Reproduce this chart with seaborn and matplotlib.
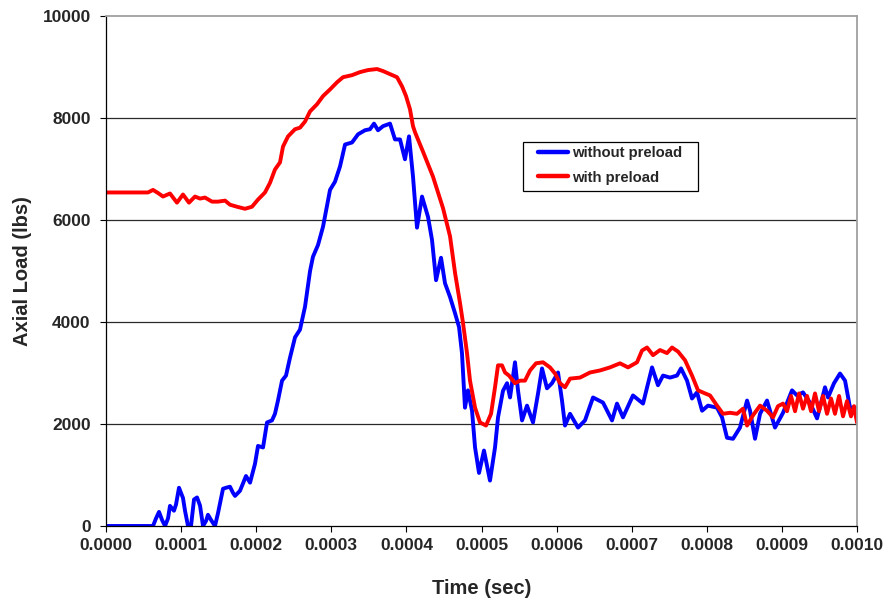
import numpy as np
import pandas as pd
import matplotlib
matplotlib.use("Agg")
import matplotlib.pyplot as plt
from matplotlib.patches import Rectangle
import seaborn as sns

# Axial load histories (time in microseconds, load in lbs)
t_without_us = [0, 62.6, 66.6, 70.6, 74.6, 78.6, 82.6, 85.2, 90.5, 93.2, 97.2, 99.9, 102.5, 105.2,
                109.2, 113.2, 117.2, 121.2, 125.2, 129.2, 133.2, 135.8, 139.8, 145.1, 149.1, 155.8,
                159.8, 165.1, 169.1, 171.8, 178.4, 186.4, 191.8, 198.4, 202.4, 209.1, 214.4, 221.0,
                225.0, 229.0, 234.4, 239.7, 245.0, 251.7, 258.3, 265.0, 271.7, 275.6, 282.3, 289.0,
                298.3, 304.9, 311.6, 318.3, 327.6, 335.6, 344.9, 351.5, 356.9, 362.2, 368.9, 378.2,
                384.8, 391.5, 398.1, 403.5, 408.8, 414.1, 420.8, 428.8, 434.1, 439.5, 446.1, 451.4,
                458.1, 464.8, 470.1, 474.0, 478.0, 482.0, 487.4, 491.4, 496.7, 503.3, 511.3, 518.0,
                522.0, 528.6, 534.0, 538.0, 544.6, 548.6, 554.0, 560.6, 568.6, 575.3, 580.6, 587.2,
                593.9, 601.9, 607.2, 611.2, 617.9, 628.5, 637.8, 648.5, 661.8, 673.8, 680.4, 688.4,
                701.7, 715.1, 727.1, 735.0, 741.7, 751.0, 760.3, 765.7, 773.7, 780.3, 787.0, 793.7,
                801.6, 813.6, 820.3, 826.9, 834.9, 844.2, 853.6, 857.6, 864.2, 870.9, 880.2, 890.8,
                901.5, 913.5, 920.1, 928.1, 937.4, 946.8, 957.4, 961.4, 969.4, 977.4, 984.1, 990.7,
                1000.0]
load_without = [0, 0, 150, 276, 120, 0, 150, 394, 300, 420, 750, 650, 550, 300,
                0, 0, 520, 560, 400, 0, 100, 220, 120, 0, 250, 730,
                750, 770, 650, 590, 690, 980, 850, 1220, 1570, 1540, 2030, 2070,
                2200, 2460, 2850, 2950, 3300, 3700, 3850, 4300, 5000, 5280, 5510, 5870,
                6590, 6750, 7050, 7480, 7520, 7680, 7760, 7780, 7890, 7760, 7840, 7890,
                7580, 7580, 7190, 7640, 6850, 5850, 6460, 6060, 5610, 4820, 5260, 4760,
                4490, 4170, 3900, 3390, 2320, 2660, 2260, 1540, 1040, 1480, 890, 1540,
                2130, 2650, 2800, 2520, 3210, 2660, 2070, 2360, 2030, 2600, 3090, 2700,
                2800, 3010, 2460, 1970, 2200, 1930, 2070, 2520, 2420, 2070, 2400, 2130,
                2560, 2400, 3110, 2760, 2950, 2910, 2950, 3090, 2850, 2500, 2620, 2260,
                2360, 2320, 2130, 1730, 1710, 1930, 2460, 2260, 1710, 2200, 2460, 1930,
                2220, 2660, 2560, 2620, 2420, 2110, 2720, 2520, 2800, 2990, 2850, 2320,
                2320]

t_with_us = [0, 55.9, 62.6, 69.2, 75.9, 85.2, 94.5, 102.5, 110.5, 118.5, 125.2, 131.8, 141.2,
             149.1, 158.5, 165.1, 174.4, 185.1, 194.4, 202.4, 211.7, 218.4, 225.0, 231.7, 235.7,
             242.4, 251.7, 258.3, 265.0, 271.7, 281.0, 289.0, 298.3, 307.6, 315.6, 327.6, 338.2,
             348.9, 360.9, 368.9, 378.2, 387.5, 394.2, 399.5, 404.8, 408.8, 411.5, 422.1, 435.4,
             448.8, 458.1, 464.8, 471.4, 475.4, 480.7, 484.7, 491.4, 498.0, 506.0, 512.7, 518.0,
             522.0, 527.3, 531.3, 536.6, 544.6, 551.3, 557.9, 564.6, 572.6, 581.9, 591.2, 597.9,
             604.5, 611.2, 617.9, 631.2, 644.5, 657.8, 671.1, 684.4, 695.1, 707.1, 713.7, 720.4,
             728.4, 737.7, 747.0, 753.7, 761.7, 771.0, 780.3, 788.3, 797.6, 804.3, 813.6, 821.6,
             830.9, 840.2, 848.2, 853.6, 861.5, 870.9, 880.2, 888.2, 894.8, 901.5, 906.8, 912.1,
             917.5, 922.8, 928.1, 933.5, 938.8, 944.1, 949.4, 954.8, 960.1, 965.4, 970.7, 976.1,
             981.4, 986.7, 992.0, 996.0, 1000.0]
load_with = [6540, 6540, 6590, 6530, 6460, 6520, 6340, 6500, 6340, 6460, 6420, 6440, 6360,
             6360, 6380, 6300, 6260, 6220, 6260, 6400, 6540, 6730, 6990, 7130, 7440,
             7640, 7780, 7810, 7930, 8130, 8270, 8430, 8560, 8700, 8800, 8840, 8900,
             8940, 8960, 8920, 8860, 8800, 8620, 8430, 8170, 7840, 7720, 7340, 6850,
             6230, 5680, 4960, 4370, 3980, 3390, 2850, 2320, 2030, 1970, 2200, 2720,
             3150, 3150, 3010, 2950, 2800, 2850, 2850, 3050, 3190, 3210, 3110, 2990,
             2800, 2720, 2890, 2910, 3010, 3050, 3110, 3190, 3110, 3210, 3440, 3500,
             3350, 3450, 3390, 3500, 3420, 3250, 2950, 2660, 2600, 2560, 2360, 2200,
             2220, 2200, 2300, 1970, 2170, 2360, 2260, 2130, 2350, 2400, 2250, 2550,
             2250, 2600, 2300, 2550, 2250, 2600, 2250, 2550, 2200, 2500, 2200, 2550,
             2150, 2450, 2150, 2350, 2030]

series_names = ["without preload", "with preload"]
series_colors = ["#0000FF", "#FF0000"]
x_ticks = [i * 0.0001 for i in range(11)]
y_ticks = [0, 2000, 4000, 6000, 8000, 10000]

df = pd.concat([
    pd.DataFrame({"time": np.array(t_without_us) * 1e-6, "load": load_without,
                  "series": series_names[0]}),
    pd.DataFrame({"time": np.array(t_with_us) * 1e-6, "load": load_with,
                  "series": series_names[1]}),
], ignore_index=True)

sns.set_style("white")
plt.rcParams["font.family"] = ["Liberation Sans", "DejaVu Sans"]
plt.rcParams["font.weight"] = "bold"

fig = plt.figure(figsize=(8.88, 5.99), dpi=100)
ax = fig.add_axes([106 / 888, 73 / 599, 751 / 888, 510 / 599])

sns.lineplot(data=df, x="time", y="load", hue="series", hue_order=series_names,
             palette=series_colors, estimator=None, sort=False, linewidth=2.8,
             ax=ax, legend=False)
for line in ax.lines:
    line.set_solid_joinstyle("round")
    line.set_solid_capstyle("round")

ax.set_xlim(0, 0.001)
ax.set_ylim(0, 10000)
ax.set_xticks(x_ticks)
ax.set_xticklabels([f"{v:.4f}" for v in x_ticks])
ax.set_yticks(y_ticks)
ax.set_yticklabels([str(v) for v in y_ticks])
ax.tick_params(axis="both", which="major", labelsize=12.5, length=4.5, width=0.8,
               color="black", direction="out")
ax.tick_params(axis="x", pad=4.5, bottom=True)
ax.tick_params(axis="y", pad=6.5, left=True)
for lab in ax.get_xticklabels() + ax.get_yticklabels():
    lab.set_fontweight("bold")

# horizontal gridlines
for v in y_ticks[1:-1]:
    ax.axhline(v, color="#2a2a2a", linewidth=0.9, zorder=0.5)

for side in ["left", "bottom"]:
    ax.spines[side].set_color("black")
    ax.spines[side].set_linewidth(0.9)
for side in ["top", "right"]:
    ax.spines[side].set_visible(True)
    ax.spines[side].set_color("#a0a0a0")
    ax.spines[side].set_linewidth(1.3)

ax.set_xlabel("Time (sec)", fontsize=14.5, fontweight="bold")
ax.set_ylabel("Axial Load (lbs)", fontsize=14.5, fontweight="bold")
ax.xaxis.set_label_coords(0.5, -0.104)
ax.yaxis.set_label_coords(-0.099, 0.5)

# legend with a plain rectangular frame
handles = [plt.Line2D([], [], color=c, linewidth=3.2, solid_capstyle="round")
           for c in series_colors]
leg = ax.legend(handles, series_names, loc="upper left",
                bbox_to_anchor=((538 - 106) / 751, (526 - 146) / 510),
                frameon=False, borderpad=0, borderaxespad=0, handlelength=2.0,
                handletextpad=0.3, labelspacing=0.72,
                prop={"size": 10.7, "weight": "bold"})
ax.add_patch(Rectangle(((523 - 106) / 751, (526 - 191) / 510), 175 / 751, 49 / 510,
                       transform=ax.transAxes, facecolor="white", edgecolor="black",
                       linewidth=0.9, zorder=4))
leg.set_zorder(5)

fig.savefig("out.png", dpi=100)
